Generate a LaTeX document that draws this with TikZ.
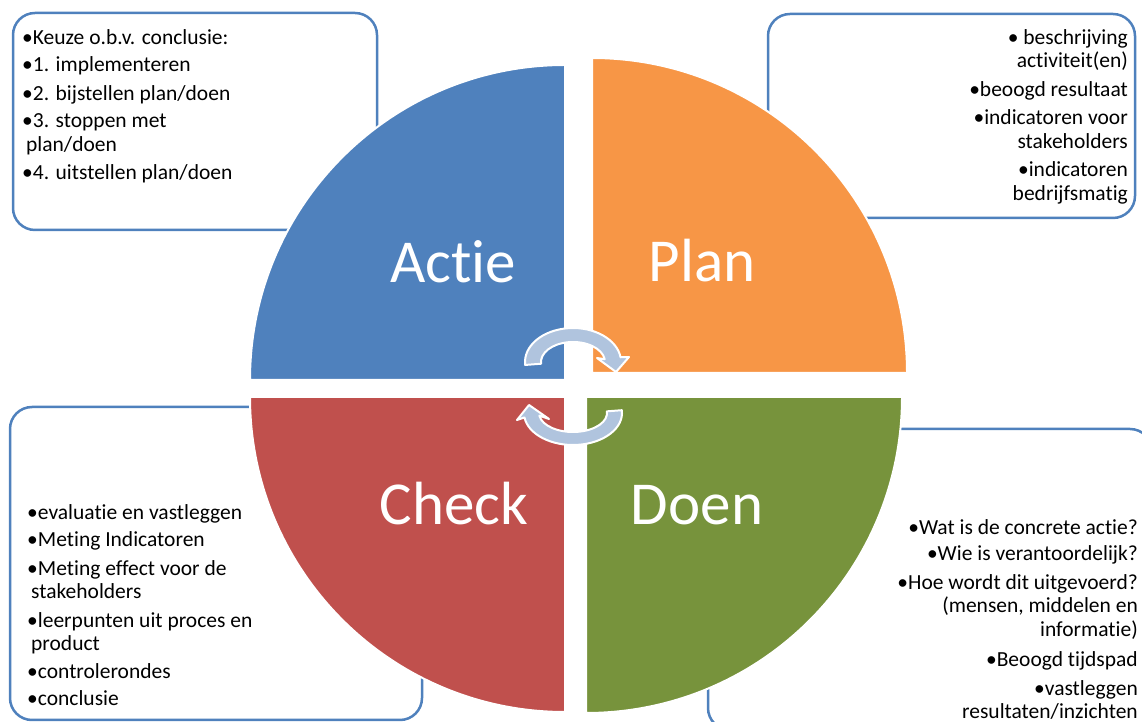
\documentclass[tikz,border=0pt]{standalone}
\usepackage{fontspec}
\setmainfont{Carlito}[Ligatures=NoCommon]
\definecolor{actieblue}{HTML}{4F81BD}
\definecolor{planorange}{HTML}{F79646}
\definecolor{checkred}{HTML}{C0504D}
\definecolor{doengreen}{HTML}{77933C}
\definecolor{boxline}{HTML}{4F81BD}
\definecolor{arrowfill}{HTML}{B0C4DE}
\begin{document}
\begin{tikzpicture}[x=1pt,y=1pt,
  notebox/.style={draw=boxline,line width=2.5pt,fill=white,rounded corners=22pt},
  quadrant/.style={draw=white,line width=2pt},
  bigword/.style={text=white,font=\fontsize{61}{72}\selectfont,inner sep=0pt,anchor=base},
  notetext/.style={font=\fontsize{21.5}{23.5}\selectfont,inner sep=0pt},
  cyclearrow/.style={fill=arrowfill,draw=white,line width=2pt,line join=round}]
\useasboundingbox (0,0) rectangle (1142,722);
\clip (0,0) rectangle (1142,722);
% note boxes behind the circle
\draw[notebox] (13,709) rectangle (377,492);
\draw[notebox] (768,708) rectangle (1135,504);
\draw[notebox] (10,315) rectangle (422,2);
\draw[notebox] (708,293) rectangle (1152,-8);
% the four quarters
\filldraw[quadrant,fill=actieblue] (565,342) -- (250,342) arc[start angle=180,end angle=90,radius=315] -- cycle;
\filldraw[quadrant,fill=planorange] (592,349) -- (592,664) arc[start angle=90,end angle=0,radius=315] -- cycle;
\filldraw[quadrant,fill=checkred] (565,325) -- (565,10) arc[start angle=270,end angle=180,radius=315] -- cycle;
\filldraw[quadrant,fill=doengreen] (586,325) -- (902,325) arc[start angle=0,end angle=-90,radius=316] -- cycle;
% arrows in the middle
\begin{scope}[shift={(573,360)}]
\filldraw[cyclearrow] (185:48 and 34) arc[start angle=185,end angle=8,x radius=48,y radius=34]
  -- (56,5) -- (43,-10) -- (24,4) -- (8:32 and 20)
  arc[start angle=8,end angle=185,x radius=32,y radius=20] -- cycle;
\end{scope}
\begin{scope}[shift={(573,309)}]
\filldraw[cyclearrow] (5:49 and 32) arc[start angle=5,end angle=-172,x radius=49,y radius=32]
  -- (-56,-7) -- (-44,8) -- (-24,-6) -- (-172:34 and 19)
  arc[start angle=-172,end angle=5,x radius=34,y radius=19] -- cycle;
\end{scope}
% labels
\node[bigword] (actie) at (453,439) {Actie};
\node[bigword] (plan) at (702,440) {Plan};
\node[bigword] (check) at (454,197) {Check};
\node[bigword] (doen) at (697,197) {Doen};
\node[notetext,anchor=north west,align=left] (actietext) at (22,693) {%
•Keuze o.b.v. conclusie:\\[4pt]
•1. implementeren\\[5pt]
•2. bijstellen plan/doen\\[4pt]
•3. stoppen met\\
\hspace*{4pt}plan/doen\\[5pt]
•4. uitstellen plan/doen};
\node[notetext,anchor=north east,align=right] (plantext) at (1128,693) {%
• beschrijving\\
activiteit(en)\\[5pt]
•beoogd resultaat\\[5pt]
•indicatoren voor\\
stakeholders\\[5pt]
•indicatoren\\
bedrijfsmatig};
\node[notetext,anchor=north west,align=left] (checktext) at (27,218) {%
•evaluatie en vastleggen\\[4pt]
•Meting Indicatoren\\[5pt]
•Meting effect voor de\\
\hspace*{4pt}stakeholders\\[5pt]
•leerpunten uit proces en\\
\hspace*{4pt}product\\[4pt]
•controlerondes\\[4pt]
•conclusie};
\node[notetext,anchor=north east,align=right] (doentext) at (1138,203) {%
•Wat is de concrete actie?\\[3pt]
•Wie is verantoordelijk?\\[5pt]
•Hoe wordt dit uitgevoerd?\\
(mensen, middelen en\\
informatie)\\[7pt]
•Beoogd tijdspad\\[5pt]
•vastleggen\\
resultaten/inzichten};
\end{tikzpicture}
\end{document}
